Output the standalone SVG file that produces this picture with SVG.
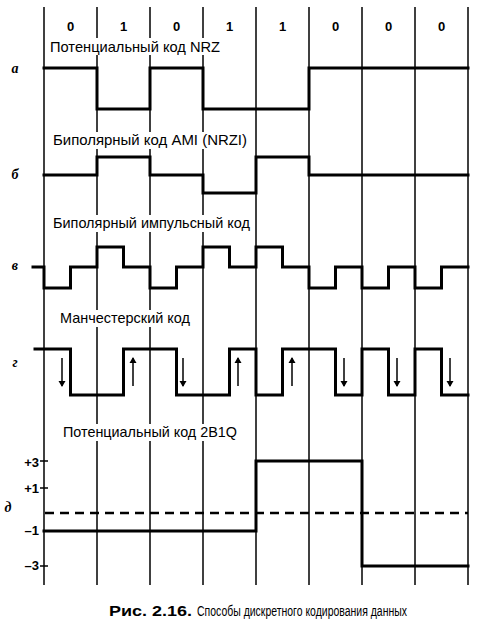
<svg xmlns="http://www.w3.org/2000/svg" width="494" height="629" viewBox="0 0 494 629">
<style>
.grid{stroke:#000;stroke-width:1.5;fill:none}
.wave{stroke:#000;stroke-width:3;fill:none;stroke-linejoin:miter;stroke-linecap:square}
.title{font-family:"Liberation Sans",Arial,sans-serif;font-size:14.5px;fill:#000}
.bit{font-family:"Liberation Sans",Arial,sans-serif;font-size:13px;font-weight:bold;fill:#000;text-anchor:middle}
.row{font-family:"Liberation Serif","Times New Roman",serif;font-size:14px;font-style:italic;font-weight:bold;fill:#000;text-anchor:middle}
.lvl{font-family:"Liberation Sans",Arial,sans-serif;font-size:13px;font-weight:bold;fill:#000;text-anchor:end}
.bg{fill:#fff;stroke:none}
.arr{stroke:#000;stroke-width:1.5;fill:none}
.dash{stroke:#000;stroke-width:2.5;fill:none;stroke-dasharray:9 6}
.cap{font-family:"Liberation Sans",Arial,sans-serif;font-size:14px;fill:#000}
</style>
<defs>
<marker id="ah" viewBox="0 0 6 8" refX="5" refY="4" markerWidth="6" markerHeight="8" markerUnits="userSpaceOnUse" orient="auto">
<path d="M0,0.5 L6,4 L0,7.5 Z" fill="#000"/>
</marker>
</defs>
<rect width="494" height="629" fill="#fff"/>
<g id="grid" class="grid">
<line x1="44" y1="7" x2="44" y2="585"/>
<line x1="97" y1="7" x2="97" y2="585"/>
<line x1="150" y1="7" x2="150" y2="585"/>
<line x1="203" y1="7" x2="203" y2="585"/>
<line x1="256" y1="7" x2="256" y2="585"/>
<line x1="309" y1="7" x2="309" y2="585"/>
<line x1="362" y1="7" x2="362" y2="585"/>
<line x1="415" y1="7" x2="415" y2="585"/>
<line x1="468" y1="7" x2="468" y2="585"/>
</g>
<g id="bits">
<text class="bit" x="70.5" y="31">0</text>
<text class="bit" x="123.5" y="31">1</text>
<text class="bit" x="176.5" y="31">0</text>
<text class="bit" x="229.5" y="31">1</text>
<text class="bit" x="282.5" y="31">1</text>
<text class="bit" x="335.5" y="31">0</text>
<text class="bit" x="388.5" y="31">0</text>
<text class="bit" x="441.5" y="31">0</text>
</g>
<g id="row-a">
<rect class="bg" x="48" y="38" width="176" height="17"/>
<text class="title" x="50" y="52" textLength="170" lengthAdjust="spacingAndGlyphs">Потенциальный код NRZ</text>
<text class="row" x="15" y="73">а</text>
<path class="wave" d="M44,68 H97 V109 H150 V68 H203 V109 H309 V68 H468"/>
</g>
<g id="row-b">
<rect class="bg" x="50" y="132" width="200" height="17"/>
<text class="title" x="53" y="145" textLength="194" lengthAdjust="spacingAndGlyphs">Биполярный код AMI (NRZI)</text>
<text class="row" x="15" y="179">б</text>
<path class="wave" d="M44,175 H97 V157 H150 V175 H203 V193 H256 V157 H309 V175 H468"/>
</g>
<g id="row-v">
<rect class="bg" x="50" y="215" width="203" height="17"/>
<text class="title" x="53" y="228" textLength="197" lengthAdjust="spacingAndGlyphs">Биполярный импульсный код</text>
<text class="row" x="15" y="270">в</text>
<path class="wave" d="M33,267 H44 V288 H70.5 V267 H97 V247 H123.5 V267 H150 V288 H176.5 V267 H203 V247 H229.5 V267 H256 V247 H282.5 V267 H309 V288 H335.5 V267 H362 V288 H388.5 V267 H415 V288 H441.5 V267 H468"/>
</g>
<g id="row-g">
<rect class="bg" x="57" y="310" width="136" height="17"/>
<text class="title" x="60" y="323" textLength="130" lengthAdjust="spacingAndGlyphs">Манчестерский код</text>
<text class="row" x="15" y="367">г</text>
<path class="wave" d="M35,349 H70.5 V395 H123.5 V349 H176.5 V395 H229.5 V349 H256 V395 H282.5 V349 H335.5 V395 H362 V349 H388.5 V395 H415 V349 H441.5 V395 H468"/>
<g class="arr">
<line x1="62" y1="358" x2="62" y2="386" marker-end="url(#ah)"/>
<line x1="133" y1="386" x2="133" y2="358" marker-end="url(#ah)"/>
<line x1="183" y1="358" x2="183" y2="386" marker-end="url(#ah)"/>
<line x1="238" y1="386" x2="238" y2="358" marker-end="url(#ah)"/>
<line x1="292" y1="386" x2="292" y2="358" marker-end="url(#ah)"/>
<line x1="344" y1="358" x2="344" y2="386" marker-end="url(#ah)"/>
<line x1="397" y1="358" x2="397" y2="386" marker-end="url(#ah)"/>
<line x1="450" y1="358" x2="450" y2="386" marker-end="url(#ah)"/>
</g>
</g>
<g id="row-d">
<rect class="bg" x="60" y="424" width="181" height="17"/>
<text class="title" x="63" y="437" textLength="174" lengthAdjust="spacingAndGlyphs">Потенциальный код 2B1Q</text>
<text class="row" x="8" y="512">д</text>
<g class="grid">
<line x1="40" y1="461" x2="48" y2="461"/>
<line x1="40" y1="488" x2="48" y2="488"/>
<line x1="40" y1="566" x2="48" y2="566"/>
</g>
<text class="lvl" x="39" y="467">+3</text>
<text class="lvl" x="39" y="493">+1</text>
<text class="lvl" x="39" y="535">–1</text>
<text class="lvl" x="39" y="570">–3</text>
<line class="dash" x1="45" y1="513" x2="468" y2="513"/>
<path class="wave" d="M44,531 H256 V461 H362 V566 H468"/>
</g>
<g id="caption">
<text class="cap" x="109" y="616"><tspan font-weight="bold" textLength="83" lengthAdjust="spacingAndGlyphs">Рис. 2.16.</tspan><tspan x="197" textLength="210" lengthAdjust="spacingAndGlyphs">Способы дискретного кодирования данных</tspan></text>
</g>
</svg>
